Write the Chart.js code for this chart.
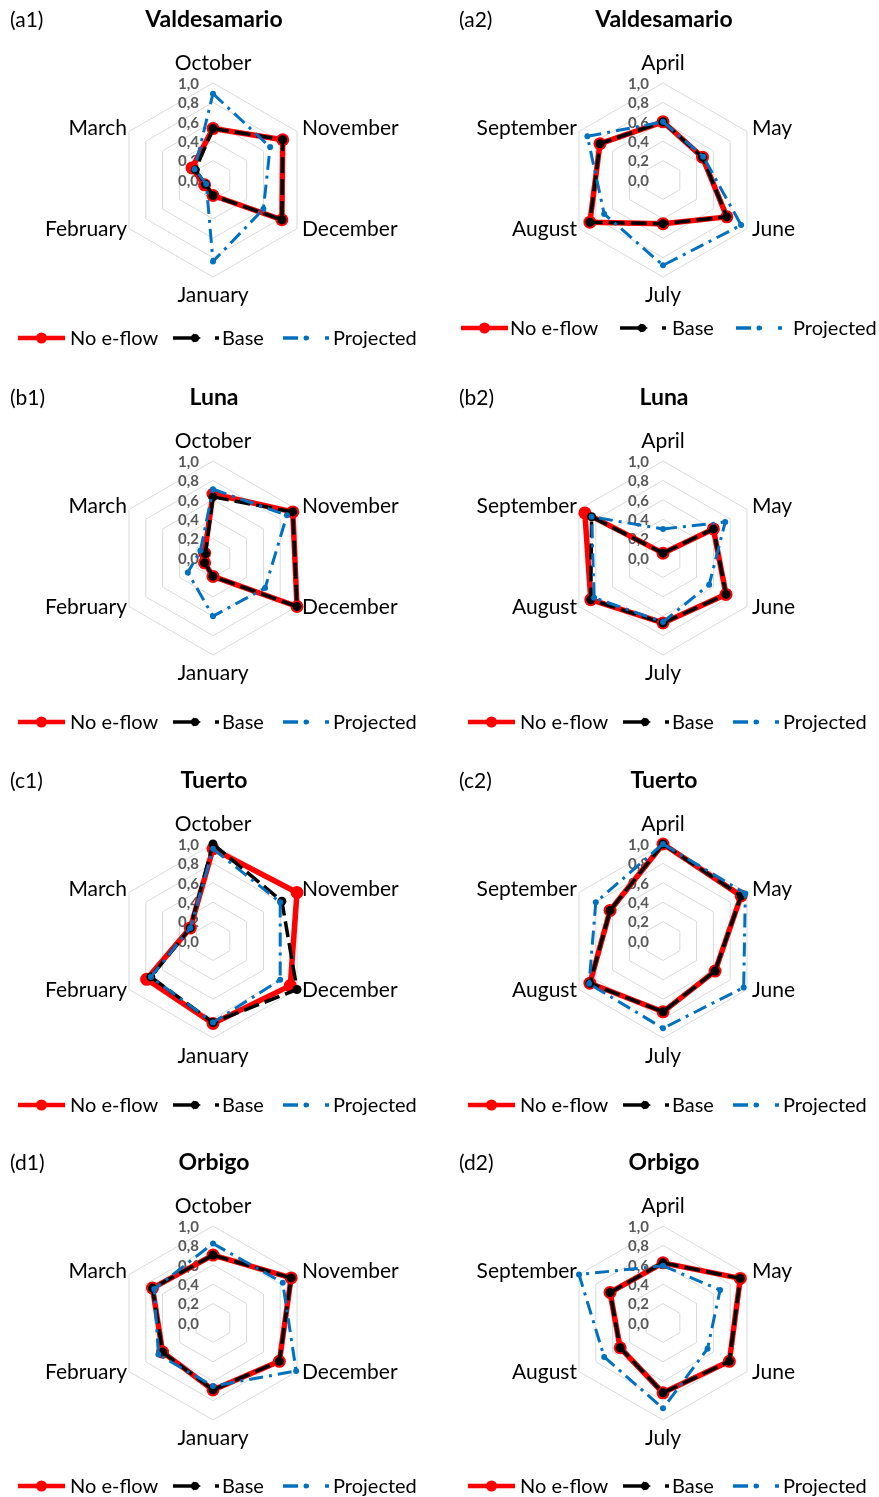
<!DOCTYPE html>
<html>
<head>
<meta charset="utf-8">
<script src="https://cdn.jsdelivr.net/npm/chart.js@4.4.1/dist/chart.umd.min.js"></script>
<style>
  html, body { margin: 0; padding: 0; background: #ffffff; width: 879px; height: 1497px; overflow: hidden; }
  .panel { position: absolute; }
  .panel canvas { display: block; }
</style>
</head>
<body>
<div id="sheet"></div>
<script>
// Month axes (dry season / wet season halves of the hydrological year)
const monthsOctMar = ['October', 'November', 'December', 'January', 'February', 'March'];
const monthsAprSep = ['April', 'May', 'June', 'July', 'August', 'September'];
const tickLabels = ['0,0', '0,2', '0,4', '0,6', '0,8', '1,0'];
const seriesNames = ['No e-flow', 'Base', 'Projected'];

// Valdesamario
const valdesamarioOctMarNoEflow   = [0.53, 0.83, 0.82, 0.16, 0.10, 0.25];
const valdesamarioOctMarBase      = [0.53, 0.83, 0.82, 0.16, 0.09, 0.21];
const valdesamarioOctMarProjected = [0.89, 0.68, 0.60, 0.84, 0.08, 0.22];
const valdesamarioAprSepNoEflow   = [0.60, 0.47, 0.76, 0.45, 0.87, 0.75];
const valdesamarioAprSepBase      = [0.60, 0.47, 0.76, 0.45, 0.87, 0.75];
const valdesamarioAprSepProjected = [0.60, 0.48, 0.93, 0.88, 0.70, 0.90];

// Luna
const lunaOctMarNoEflow   = [0.66, 0.95, 1.00, 0.19, 0.10, 0.10];
const lunaOctMarBase      = [0.63, 0.95, 1.00, 0.19, 0.10, 0.09];
const lunaOctMarProjected = [0.71, 0.88, 0.62, 0.60, 0.30, 0.15];
const lunaAprSepNoEflow   = [0.05, 0.60, 0.75, 0.67, 0.86, 0.93];
const lunaAprSepBase      = [0.05, 0.60, 0.75, 0.67, 0.86, 0.85];
const lunaAprSepProjected = [0.30, 0.74, 0.55, 0.66, 0.82, 0.85];

// Tuerto
const tuertoOctMarNoEflow   = [0.95, 1.00, 0.92, 0.85, 0.79, 0.27];
const tuertoOctMarBase      = [1.00, 0.82, 1.00, 0.84, 0.74, 0.27];
const tuertoOctMarProjected = [0.95, 0.80, 0.80, 0.84, 0.74, 0.27];
const tuertoAprSepNoEflow   = [1.00, 0.93, 0.62, 0.73, 0.87, 0.63];
const tuertoAprSepBase      = [1.00, 0.93, 0.62, 0.73, 0.87, 0.63];
const tuertoAprSepProjected = [1.00, 0.98, 0.96, 0.90, 0.88, 0.80];

// Orbigo
const orbigoOctMarNoEflow   = [0.70, 0.93, 0.79, 0.69, 0.60, 0.72];
const orbigoOctMarBase      = [0.70, 0.93, 0.79, 0.69, 0.60, 0.72];
const orbigoOctMarProjected = [0.82, 0.83, 0.99, 0.65, 0.65, 0.70];
const orbigoAprSepNoEflow   = [0.62, 0.92, 0.79, 0.72, 0.51, 0.63];
const orbigoAprSepBase      = [0.62, 0.92, 0.79, 0.72, 0.51, 0.63];
const orbigoAprSepProjected = [0.59, 0.68, 0.53, 0.88, 0.70, 1.00];

const FONT = 'Lato, "Open Sans", "DejaVu Sans", sans-serif';
const RED = '#ff0000', BLACK = '#000000', BLUE = '#0070c0';

// Legend layouts: [sample start x, text x] per series
const legendStd = [[18, 70], [173, 222], [283, 333]];
const legendWide = [[11, 60], [170, 222], [286, 343]];

const panels = [
  { tag: '(a1)', river: 'Valdesamario', months: monthsOctMar, left: 0,   top: 0,    legendY: 338, legend: legendStd,
    series: [valdesamarioOctMarNoEflow, valdesamarioOctMarBase, valdesamarioOctMarProjected] },
  { tag: '(a2)', river: 'Valdesamario', months: monthsAprSep, left: 450, top: 0,    legendY: 328, legend: legendWide,
    series: [valdesamarioAprSepNoEflow, valdesamarioAprSepBase, valdesamarioAprSepProjected] },
  { tag: '(b1)', river: 'Luna',         months: monthsOctMar, left: 0,   top: 378,  legendY: 344, legend: legendStd,
    series: [lunaOctMarNoEflow, lunaOctMarBase, lunaOctMarProjected] },
  { tag: '(b2)', river: 'Luna',         months: monthsAprSep, left: 450, top: 378,  legendY: 344, legend: legendStd,
    series: [lunaAprSepNoEflow, lunaAprSepBase, lunaAprSepProjected] },
  { tag: '(c1)', river: 'Tuerto',       months: monthsOctMar, left: 0,   top: 761,  legendY: 344, legend: legendStd,
    series: [tuertoOctMarNoEflow, tuertoOctMarBase, tuertoOctMarProjected] },
  { tag: '(c2)', river: 'Tuerto',       months: monthsAprSep, left: 450, top: 761,  legendY: 344, legend: legendStd,
    series: [tuertoAprSepNoEflow, tuertoAprSepBase, tuertoAprSepProjected] },
  { tag: '(d1)', river: 'Orbigo',       months: monthsOctMar, left: 0,   top: 1143, legendY: 343, legend: legendStd,
    series: [orbigoOctMarNoEflow, orbigoOctMarBase, orbigoOctMarProjected] },
  { tag: '(d2)', river: 'Orbigo',       months: monthsAprSep, left: 450, top: 1143, legendY: 343, legend: legendStd,
    series: [orbigoAprSepNoEflow, orbigoAprSepBase, orbigoAprSepProjected] }
];

const seriesStyles = [
  { color: RED,   width: 5.5, dash: [],            radius: 6.5, order: 3 },
  { color: BLACK, width: 3.5, dash: [16, 6],       radius: 4.5, order: 2 },
  { color: BLUE,  width: 3,   dash: [14, 6, 3, 6], radius: 3,   order: 1 }
];

// Draws a legend swatch for one series
function drawSwatch(ctx, k, x0, y) {
  const st = seriesStyles[k];
  ctx.save();
  ctx.strokeStyle = st.color;
  ctx.fillStyle = st.color;
  ctx.lineCap = 'butt';
  const seg = (a, b, w) => { ctx.lineWidth = w; ctx.beginPath(); ctx.moveTo(a, y); ctx.lineTo(b, y); ctx.stroke(); };
  if (k === 0) {
    seg(x0, x0 + 47, 4.5);
    ctx.beginPath(); ctx.arc(x0 + 23.5, y, 5.5, 0, Math.PI * 2); ctx.fill();
  } else if (k === 1) {
    seg(x0, x0 + 22, 3.5);
    ctx.beginPath();
    ctx.moveTo(x0 + 20, y - 4.5); ctx.lineTo(x0 + 28, y); ctx.lineTo(x0 + 20, y + 4.5); ctx.closePath(); ctx.fill();
    ctx.beginPath(); ctx.arc(x0 + 22, y, 4, 0, Math.PI * 2); ctx.fill();
    seg(x0 + 42, x0 + 46, 3.5);
  } else {
    seg(x0, x0 + 15, 3.5);
    seg(x0 + 21, x0 + 26, 3);
    ctx.beginPath(); ctx.arc(x0 + 23, y, 2.5, 0, Math.PI * 2); ctx.fill();
    seg(x0 + 42, x0 + 46, 3.5);
  }
  ctx.restore();
}

// Panel text: tag, river name, month labels, scale values, legend
const panelText = {
  id: 'panelText',
  beforeDatasetsDraw(chart) {
    const s = chart.scales.r;
    const ctx = chart.ctx;
    ctx.save();
    ctx.font = 'bold 15px ' + FONT;
    ctx.fillStyle = '#595959';
    ctx.textAlign = 'right';
    ctx.textBaseline = 'middle';
    s.ticks.forEach((t, i) => {
      const p = s.getPointPosition(0, s.getDistanceFromCenterForValue(t.value));
      ctx.fillText(tickLabels[i], p.x - 14, p.y + 1);
    });
    ctx.restore();
  },
  afterDraw(chart, args, opts) {
    const cfg = opts.cfg;
    const s = chart.scales.r;
    const ctx = chart.ctx;
    ctx.save();
    ctx.fillStyle = '#000000';
    ctx.textBaseline = 'middle';

    ctx.font = '21px ' + FONT;
    ctx.textAlign = 'left';
    ctx.fillText(cfg.tag, cfg.left === 0 ? 10 : 9, 20);

    ctx.font = 'bold 23px ' + FONT;
    ctx.textAlign = 'center';
    ctx.fillText(cfg.river, s.xCenter + 1, 20);

    ctx.font = '21px ' + FONT;
    cfg.months.forEach((m, i) => {
      const p = s.getPointPosition(i, s.drawingArea);
      let x = p.x, y = p.y, align = 'center';
      if (i === 0) { y -= 20; }
      else if (i === 3) { y += 18; }
      else if (i === 1) { x += 5; y -= 3; align = 'left'; }
      else if (i === 2) { x += 5; y += 1; align = 'left'; }
      else if (i === 4) { x -= 2; y += 1; align = 'right'; }
      else { x -= 2; y -= 3; align = 'right'; }
      ctx.textAlign = align;
      ctx.fillText(m, x, y);
    });

    ctx.font = '20px ' + FONT;
    ctx.textAlign = 'left';
    cfg.legend.forEach((pos, k) => {
      drawSwatch(ctx, k, pos[0], cfg.legendY);
      ctx.fillText(seriesNames[k], pos[1], cfg.legendY + 1);
    });
    ctx.restore();
  }
};

const sheet = document.getElementById('sheet');
panels.forEach(cfg => {
  const W = cfg.left === 0 ? 440 : 429;
  const H = 360;
  const div = document.createElement('div');
  div.className = 'panel';
  div.style.left = cfg.left + 'px';
  div.style.top = cfg.top + 'px';
  const cv = document.createElement('canvas');
  cv.width = W; cv.height = H;
  cv.style.width = W + 'px'; cv.style.height = H + 'px';
  div.appendChild(cv);
  sheet.appendChild(div);

  new Chart(cv, {
    type: 'radar',
    data: {
      labels: cfg.months,
      datasets: cfg.series.map((vals, k) => ({
        label: seriesNames[k],
        data: vals,
        borderColor: seriesStyles[k].color,
        backgroundColor: seriesStyles[k].color,
        borderWidth: seriesStyles[k].width,
        borderDash: seriesStyles[k].dash,
        borderCapStyle: 'butt',
        borderJoinStyle: 'round',
        pointRadius: seriesStyles[k].radius,
        pointBackgroundColor: seriesStyles[k].color,
        pointBorderColor: seriesStyles[k].color,
        pointBorderWidth: 0,
        pointHoverRadius: seriesStyles[k].radius,
        fill: false,
        tension: 0,
        order: seriesStyles[k].order
      }))
    },
    options: {
      responsive: false,
      animation: false,
      events: [],
      layout: { padding: { left: 116, top: 83, right: W - 116 - 195, bottom: H - 83 - 195 } },
      plugins: {
        legend: { display: false },
        title: { display: false },
        tooltip: { enabled: false },
        panelText: { cfg: cfg }
      },
      scales: {
        r: {
          min: 0,
          max: 1,
          ticks: { stepSize: 0.2, display: false },
          pointLabels: { display: false },
          angleLines: { display: false },
          grid: { color: '#d9d9d9', lineWidth: 1 }
        }
      }
    },
    plugins: [panelText]
  });
});
</script>
</body>
</html>
